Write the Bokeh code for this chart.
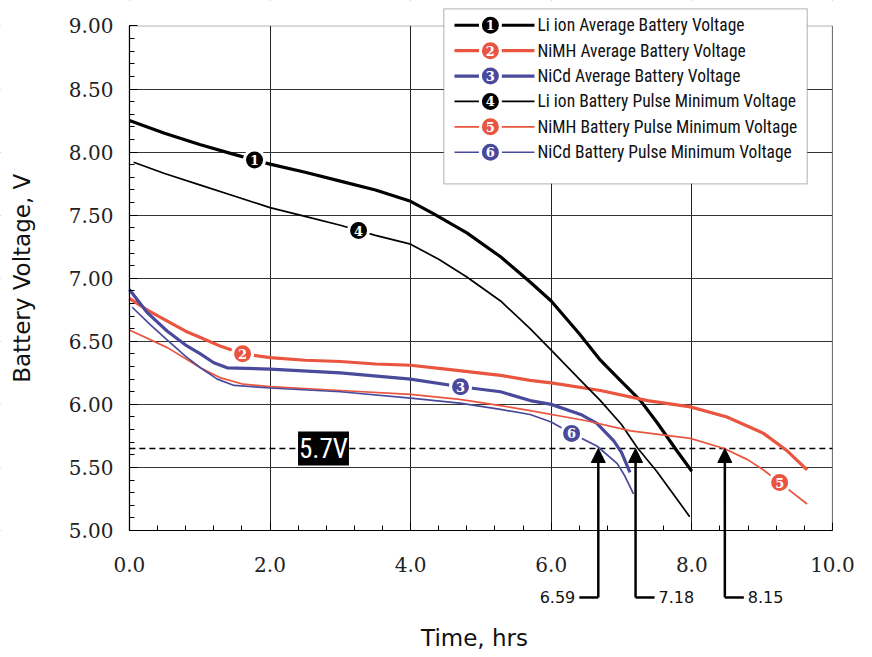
import numpy as np
from bokeh.plotting import figure
from bokeh.models import (Range1d, SingleIntervalTicker, PrintfTickFormatter, BoxAnnotation,
                          Label, Arrow, NormalHead, ColumnDataSource)
from bokeh.core.properties import value
from bokeh.embed import file_html
from bokeh.resources import INLINE

# ---------------- data ----------------
li_avg_t = [0.0, 0.5, 1.0, 1.5, 2.0, 2.5, 3.0, 3.5, 4.0, 4.33, 4.8, 5.28, 5.7, 6.0, 6.4, 6.7, 7.0, 7.27, 7.5, 7.79, 8.0]
li_avg_v = [8.25, 8.15, 8.06, 7.98, 7.905, 7.84, 7.77, 7.70, 7.61, 7.51, 7.36, 7.17, 6.97, 6.82, 6.56, 6.35, 6.18, 6.03, 5.86, 5.63, 5.47]

nimh_avg_t = [0.0, 0.25, 0.54, 0.8, 1.01, 1.3, 1.62, 2.0, 2.5, 3.0, 3.5, 4.0, 4.5, 5.28, 5.7, 6.0, 6.7, 7.37, 7.98, 8.5, 9.02, 9.36, 9.64]
nimh_avg_v = [6.84, 6.75, 6.66, 6.58, 6.53, 6.46, 6.40, 6.37, 6.35, 6.34, 6.32, 6.31, 6.28, 6.23, 6.19, 6.17, 6.11, 6.03, 5.98, 5.90, 5.77, 5.63, 5.48]

nicd_avg_t = [0.0, 0.25, 0.54, 0.8, 1.01, 1.2, 1.39, 2.0, 3.0, 4.0, 4.71, 5.28, 5.7, 6.0, 6.42, 6.65, 6.89, 7.0, 7.12]
nicd_avg_v = [6.91, 6.73, 6.58, 6.47, 6.40, 6.33, 6.29, 6.28, 6.25, 6.20, 6.14, 6.10, 6.03, 6.00, 5.92, 5.85, 5.71, 5.62, 5.46]

li_pulse_t = [0.06, 0.5, 1.0, 1.5, 2.0, 2.5, 3.0, 3.5, 4.0, 4.4, 4.8, 5.28, 5.7, 6.0, 6.4, 6.7, 7.0, 7.22, 7.5, 7.97]
li_pulse_v = [7.92, 7.83, 7.74, 7.65, 7.56, 7.49, 7.42, 7.34, 7.27, 7.15, 7.01, 6.82, 6.60, 6.43, 6.20, 6.03, 5.84, 5.66, 5.47, 5.11]

nimh_pulse_t = [0.0, 0.54, 1.01, 1.3, 1.62, 2.0, 3.0, 4.0, 4.7, 5.28, 5.7, 6.5, 7.13, 7.98, 8.46, 8.8, 9.02, 9.25, 9.64]
nimh_pulse_v = [6.59, 6.45, 6.29, 6.21, 6.16, 6.14, 6.11, 6.08, 6.04, 5.99, 5.95, 5.87, 5.79, 5.73, 5.65, 5.56, 5.48, 5.38, 5.21]

nicd_pulse_t = [0.04, 0.3, 0.54, 0.8, 1.01, 1.25, 1.49, 2.0, 3.0, 4.0, 4.7, 5.28, 5.7, 6.0, 6.29, 6.65, 6.94, 7.05, 7.17]
nicd_pulse_v = [6.77, 6.63, 6.51, 6.38, 6.29, 6.20, 6.15, 6.13, 6.10, 6.05, 6.01, 5.96, 5.92, 5.86, 5.77, 5.67, 5.53, 5.43, 5.29]

series_names = ["Li ion Average Battery Voltage",
                "NiMH Average Battery Voltage",
                "NiCd Average Battery Voltage",
                "Li ion Battery Pulse Minimum Voltage",
                "NiMH Battery Pulse Minimum Voltage",
                "NiCd Battery Pulse Minimum Voltage"]
series_numbers = ["1", "2", "3", "4", "5", "6"]
marker_t = [1.78, 1.61, 4.71, 3.26, 9.25, 6.29]

threshold_v = 5.65
threshold_label = "5.7V"
crossing_t = [6.67, 7.20, 8.47]
crossing_labels = ["6.59", "7.18", "8.15"]

x_title = "Time, hrs"
y_title = "Battery Voltage, V"
X_MIN, X_MAX = 0, 10
Y_MIN, Y_MAX = 5, 9

# ---------------- styles ----------------
BLACK = "#000000"
RED = "#E9553F"
BLUE = "#4A4A9C"
series_t = [li_avg_t, nimh_avg_t, nicd_avg_t, li_pulse_t, nimh_pulse_t, nicd_pulse_t]
series_v = [li_avg_v, nimh_avg_v, nicd_avg_v, li_pulse_v, nimh_pulse_v, nicd_pulse_v]
colors = [BLACK, RED, BLUE, BLACK, RED, BLUE]
widths = [3.2, 3.2, 3.2, 1.7, 1.7, 1.7]

NUM_FONT = value("DejaVu Serif")
NARROW = "Liberation Sans Narrow, Roboto Condensed, Liberation Sans"

# whole canvas is the frame; axes are pinned at the data box edges
p = figure(frame_width=872, frame_height=657,
           x_range=Range1d(-1.8336, 10.5704), y_range=Range1d(3.9931, 9.2021),
           output_backend="svg", toolbar_location=None,
           min_border_left=0, min_border_right=0, min_border_top=0, min_border_bottom=0)
p.outline_line_color = None
p.background_fill_color = "white"
p.border_fill_color = "white"

p.xaxis.ticker = SingleIntervalTicker(interval=2, num_minor_ticks=5)
p.yaxis.ticker = SingleIntervalTicker(interval=0.5, num_minor_ticks=5)
p.xaxis.formatter = PrintfTickFormatter(format="%.1f")
p.yaxis.formatter = PrintfTickFormatter(format="%.2f")
p.xaxis.bounds = (X_MIN, X_MAX)
p.yaxis.bounds = (Y_MIN, Y_MAX)
p.xaxis.fixed_location = Y_MIN
p.yaxis.fixed_location = X_MIN
for ax in (p.xaxis[0], p.yaxis[0]):
    ax.major_tick_in = 8
    ax.major_tick_out = 0
    ax.minor_tick_in = 5
    ax.minor_tick_out = 0
    ax.axis_line_color = BLACK
    ax.axis_line_width = 1.2
    ax.major_tick_line_color = BLACK
    ax.minor_tick_line_color = BLACK
    ax.major_label_text_font = "DejaVu Serif"
    ax.major_label_text_font_size = "20px"
    ax.major_label_text_color = "#222222"
p.yaxis.major_label_standoff = 16
p.xaxis.major_label_standoff = 26

p.xgrid.grid_line_color = "#222222"
p.ygrid.grid_line_color = "#333333"
p.xgrid.grid_line_width = 1
p.ygrid.grid_line_width = 1

# hide grid outside the data box and draw the box border
for kw in (dict(bottom=Y_MAX), dict(top=Y_MIN), dict(right=X_MIN), dict(left=X_MAX)):
    p.add_layout(BoxAnnotation(fill_color="white", fill_alpha=1, line_color=None, level="underlay", **kw))
p.add_layout(BoxAnnotation(left=X_MIN, right=X_MAX, bottom=Y_MIN, top=Y_MAX, fill_color=None,
                           line_color=BLACK, line_width=1.2, level="underlay"))

# legend box
p.add_layout(BoxAnnotation(left=4.472, right=9.642, bottom=7.749, top=9.136, fill_color="white",
                           fill_alpha=1, line_color="#333333", line_width=1.3, level="underlay"))

# axis titles
p.add_layout(Label(x=-1.521, y=7.0, text=y_title, angle=np.pi / 2, text_align="center",
                   text_baseline="alphabetic", text_font="DejaVu Sans", text_font_size="23px",
                   text_color="#111111"))
p.add_layout(Label(x=4.909, y=4.145, text=x_title, text_align="center",
                   text_baseline="alphabetic", text_font="DejaVu Sans", text_font_size="23px",
                   text_color="#111111"))

# threshold line (limited to the data box)
p.segment(x0=X_MIN, y0=threshold_v, x1=X_MAX, y1=threshold_v, line_color=BLACK, line_width=1.5,
          line_dash="6 4")
p.add_layout(Label(x=2.761, y=threshold_v, text=threshold_label, text_align="center",
                   text_baseline="middle", text_color="white", text_font=NARROW,
                   text_font_size="27px", background_fill_color=BLACK, padding=1))

# curves
for t, v, c, w in zip(series_t, series_v, colors, widths):
    p.line(t, v, line_color=c, line_width=w, line_join="round")

# numbered markers on the curves
mark_y = [float(np.interp(mt, t, v)) for mt, t, v in zip(marker_t, series_t, series_v)]
msrc = ColumnDataSource(dict(x=marker_t, y=mark_y, c=colors, n=series_numbers))
p.scatter("x", "y", source=msrc, size=20, fill_color="c", line_color="white", line_width=3)
p.text("x", "y", text="n", source=msrc, text_align="center", text_baseline="middle",
       text_color="white", text_font=NUM_FONT, text_font_size="13px", text_font_style="bold")

# arrows marking the threshold crossings
FOOT_V = 4.469
for i, (ct, lab) in enumerate(zip(crossing_t, crossing_labels)):
    p.add_layout(Arrow(end=NormalHead(size=14, fill_color=BLACK, line_color=BLACK),
                       x_start=ct, y_start=FOOT_V, x_end=ct, y_end=threshold_v,
                       line_width=2.5, line_color=BLACK))
    direction = -1 if i == 0 else 1
    p.add_layout(Arrow(end=None, x_start=ct, y_start=FOOT_V, x_end=ct + direction * 0.27,
                       y_end=FOOT_V, line_width=2.5, line_color=BLACK))
    p.add_layout(Label(x=ct, y=FOOT_V, x_offset=direction * 23,
                       text_align="right" if direction < 0 else "left", text_baseline="middle",
                       text=lab, text_font="DejaVu Sans", text_font_size="16px", text_color="#111111"))

# legend (line + numbered circle + label)
LEG_ROW0 = 9.006
LEG_PITCH = 0.2014
leg_y = [LEG_ROW0 - i * LEG_PITCH for i in range(len(series_names))]
for yy, c, w in zip(leg_y, colors, widths):
    p.segment(x0=4.624, y0=yy, x1=5.762, y1=yy, line_color=c, line_width=w)
lsrc = ColumnDataSource(dict(x=[5.135] * 6, y=leg_y, c=colors, n=series_numbers,
                             tx=[5.805] * 6, name=series_names))
p.scatter("x", "y", source=lsrc, size=20, fill_color="c", line_color="white", line_width=3)
p.text("x", "y", text="n", source=lsrc, text_align="center", text_baseline="middle",
       text_color="white", text_font=NUM_FONT, text_font_size="13px", text_font_style="bold")
p.text("tx", "y", text="name", source=lsrc, text_align="left", text_baseline="middle",
       text_color="#111111", text_font=value(NARROW), text_font_size="17.5px")

open("out.html", "w").write(file_html(p, INLINE))
